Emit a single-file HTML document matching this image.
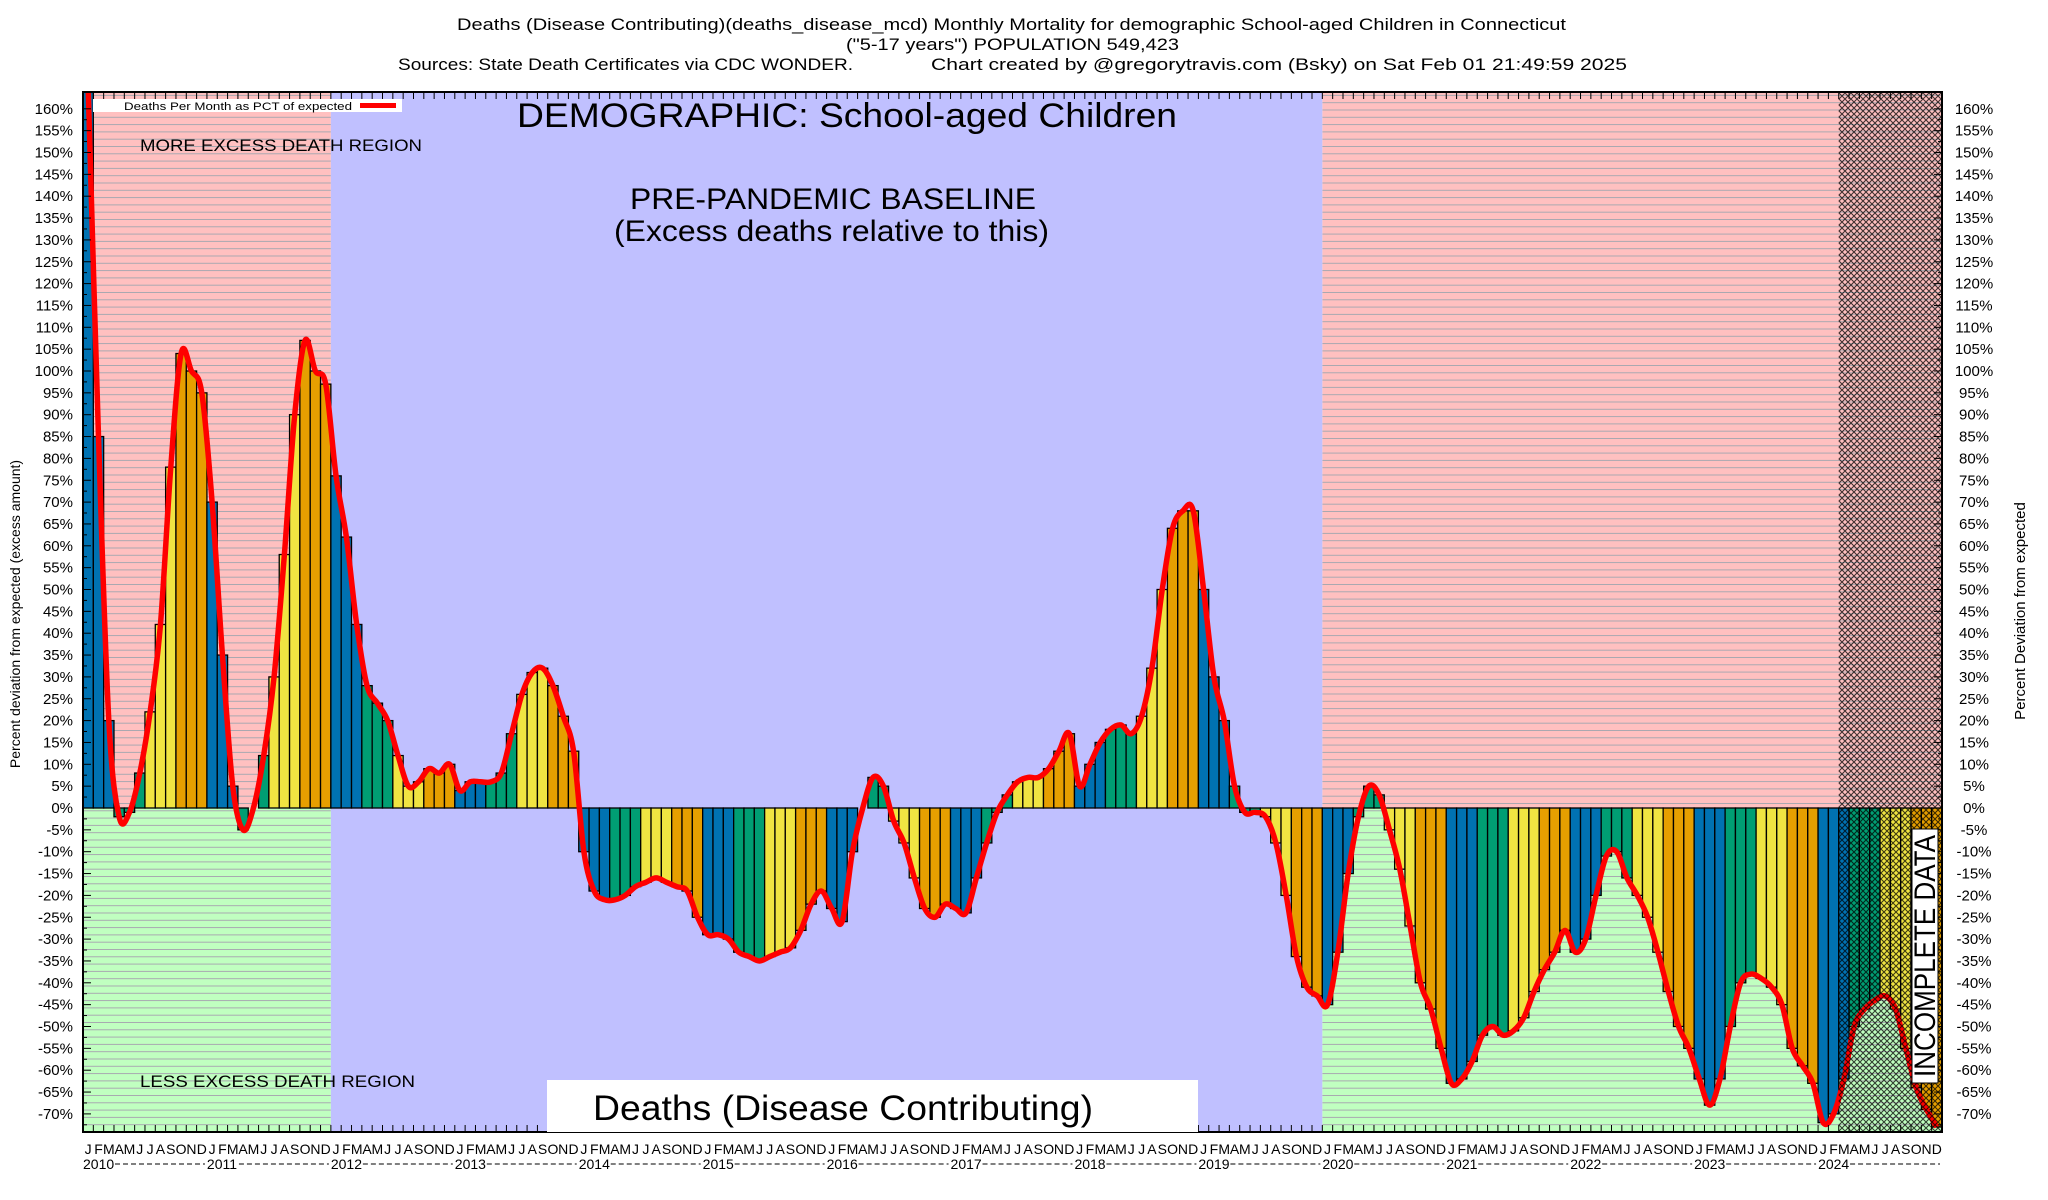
<!DOCTYPE html>
<html><head><meta charset="utf-8"><style>
html,body{margin:0;padding:0;background:#fff;}
svg{display:block;font-family:"Liberation Sans",sans-serif;}
</style></head><body>
<svg id="chart" width="2048" height="1200" viewBox="0 0 2048 1200" xmlns="http://www.w3.org/2000/svg">
<defs>
<pattern id="stripes" width="20" height="7.3" patternUnits="userSpaceOnUse"><line x1="0" y1="0.5" x2="20" y2="0.5" stroke="#a8a8b0" stroke-width="1"/></pattern>
<pattern id="hatch" width="6" height="6" patternUnits="userSpaceOnUse"><path d="M0,0 L6,6 M6,0 L0,6" stroke="#000" stroke-width="1.1" opacity="0.75"/></pattern>
<clipPath id="plotclip"><rect x="83" y="92" width="1859" height="1040"/></clipPath>
</defs>
<g id="bg"></g>
<g id="bars" clip-path="url(#plotclip)"></g>
<g id="line" clip-path="url(#plotclip)"></g>
<g id="overlay"></g>
<g id="axes"></g>
<g id="texts">
<text x="457" y="30" font-size="17" textLength="1109" lengthAdjust="spacingAndGlyphs">Deaths (Disease Contributing)(deaths_disease_mcd) Monthly Mortality for demographic School-aged Children in Connecticut</text>
<text x="846" y="50" font-size="17" textLength="333" lengthAdjust="spacingAndGlyphs">("5-17 years") POPULATION 549,423</text>
<text x="398" y="70" font-size="17" textLength="455" lengthAdjust="spacingAndGlyphs">Sources: State Death Certificates via CDC WONDER.</text>
<text x="931" y="70" font-size="17" textLength="696" lengthAdjust="spacingAndGlyphs">Chart created by @gregorytravis.com (Bsky) on Sat Feb 01 21:49:59 2025</text>
<rect x="93" y="99" width="309" height="13" fill="#fff"/>
<text x="124" y="110" font-size="11" textLength="228" lengthAdjust="spacingAndGlyphs">Deaths Per Month as PCT of expected</text>
<line x1="360" y1="105.5" x2="396" y2="105.5" stroke="#f00" stroke-width="5"/>
<text x="517" y="127" font-size="34" textLength="660" lengthAdjust="spacingAndGlyphs">DEMOGRAPHIC: School-aged Children</text>
<text x="140" y="151" font-size="17" textLength="282" lengthAdjust="spacingAndGlyphs">MORE EXCESS DEATH REGION</text>
<text x="630" y="209" font-size="30" textLength="406" lengthAdjust="spacingAndGlyphs">PRE-PANDEMIC BASELINE</text>
<text x="614" y="241" font-size="30" textLength="435" lengthAdjust="spacingAndGlyphs">(Excess deaths relative to this)</text>
<text x="140" y="1087" font-size="17" textLength="275" lengthAdjust="spacingAndGlyphs">LESS EXCESS DEATH REGION</text>
<rect x="547" y="1080" width="651" height="52" fill="#fff"/>
<text x="593" y="1120" font-size="35" textLength="500" lengthAdjust="spacingAndGlyphs">Deaths (Disease Contributing)</text>
<rect x="1912" y="829" width="26" height="254" fill="#fff" stroke="#000" stroke-width="1"/>
<text transform="translate(1935,1077) rotate(-90)" font-size="30" textLength="242" lengthAdjust="spacingAndGlyphs">INCOMPLETE DATA</text>
<text transform="translate(20,614) rotate(-90)" font-size="14" text-anchor="middle">Percent deviation from expected (excess amount)</text>
<text transform="translate(2025,611) rotate(-90)" font-size="15" text-anchor="middle">Percent Deviation from expected</text>
</g>
</svg>
<script>
const startYear = 2010;
const monthLetters = ["J","F","M","A","M","J","J","A","S","O","N","D"];
const yTicks = [160,155,150,145,140,135,130,125,120,115,110,105,100,95,90,85,80,75,70,65,60,55,50,45,40,35,30,25,20,15,10,5,0,-5,-10,-15,-20,-25,-30,-35,-40,-45,-50,-55,-60,-65,-70];
const values2010 = [165,85,20,-2,-1,8,22,42,78,104,100,95];
const values2011 = [70,35,5,-5,0,12,30,58,90,107,100,97];
const values2012 = [76,62,42,28,24,20,12,5,6,9,8,10];
const values2013 = [4,6,6,6,8,17,26,31,32,28,21,13];
const values2014 = [-10,-19,-21,-21,-20,-18,-17,-16,-17,-18,-19,-25];
const values2015 = [-29,-29,-30,-33,-34,-35,-34,-33,-32,-28,-22,-19];
const values2016 = [-23,-26,-10,0,7,5,-3,-8,-16,-23,-25,-22];
const values2017 = [-23,-24,-16,-8,-1,3,6,7,7,9,13,17];
const values2018 = [5,10,15,18,19,17,21,32,50,64,68,68];
const values2019 = [50,30,20,5,-1,-1,-2,-8,-20,-34,-41,-43];
const values2020 = [-45,-33,-15,-2,5,3,-5,-14,-27,-40,-46,-55];
const values2021 = [-63,-62,-58,-52,-50,-52,-51,-48,-42,-37,-33,-28];
const values2022 = [-33,-30,-20,-11,-10,-16,-20,-25,-33,-42,-50,-55];
const values2023 = [-62,-68,-62,-50,-40,-38,-39,-41,-45,-55,-59,-63];
const values2024 = [-72,-70,-62,-50,-46,-44,-43,-46,-55,-64,-69,-73];
const values = [].concat(values2010,values2011,values2012,values2013,values2014,values2015,values2016,values2017,values2018,values2019,values2020,values2021,values2022,values2023,values2024);
const incompleteFromIndex = 170;

const NS="http://www.w3.org/2000/svg";
const X0=83, X1=1942, YT=92, YB=1132;
const n=values.length, mw=(X1-X0)/n;
const xs=i=>X0+i*mw;
const ys=v=>808-v*4.37;
function mk(tag,attrs,parent){const e=document.createElementNS(NS,tag);for(const k in attrs)e.setAttribute(k,attrs[k]);parent.appendChild(e);return e;}
const bg=document.getElementById('bg'),bars=document.getElementById('bars'),line=document.getElementById('line'),ov=document.getElementById('overlay'),ax=document.getElementById('axes');
const z=ys(0);
const x2012=xs(24), x2020=xs(120);
let r;
r=mk('rect',{x:X0,y:YT,width:x2012-X0,height:z-YT,fill:'#ffc0c0'},bg);
 
r=mk('rect',{x:x2020,y:YT,width:X1-x2020,height:z-YT,fill:'#ffc0c0'},bg);
 
r=mk('rect',{x:X0,y:z,width:x2012-X0,height:YB-z,fill:'#c0ffc0'},bg);
 
r=mk('rect',{x:x2020,y:z,width:X1-x2020,height:YB-z,fill:'#c0ffc0'},bg);
 
r=mk('rect',{x:X0,y:YT,width:x2012-X0,height:YB-YT,fill:'url(#stripes)'},bg);
 
r=mk('rect',{x:x2020,y:YT,width:X1-x2020,height:YB-YT,fill:'url(#stripes)'},bg);
 
r=mk('rect',{x:x2012,y:YT,width:x2020-x2012,height:YB-YT,fill:'#c0c0ff'},bg);
 

const colors=['#0072b2','#009e73','#f0e442','#e69f00'];
values.forEach((v,i)=>{
  const m=i%12; const y=ys(v);
  const b=mk('rect',{x:xs(i),y:Math.min(y,z),width:mw,height:Math.abs(z-y),fill:colors[Math.floor(m/3)],stroke:'#000','stroke-width':1.3},bars);
  
  
});
const pts=values.map((v,i)=>[xs(i)+mw/2,ys(v)]);
let d='M'+pts[0][0]+','+pts[0][1];
for(let i=0;i<pts.length-1;i++){
  const p0=pts[Math.max(0,i-1)],p1=pts[i],p2=pts[i+1],p3=pts[Math.min(pts.length-1,i+2)];
  d+=' C'+(p1[0]+(p2[0]-p0[0])/6)+','+(p1[1]+(p2[1]-p0[1])/6)+' '+(p2[0]-(p3[0]-p1[0])/6)+','+(p2[1]-(p3[1]-p1[1])/6)+' '+p2[0]+','+p2[1];
}
const pl=mk('path',{d:d,fill:'none',stroke:'#ff0000','stroke-width':5.5,'stroke-linejoin':'round'},line);



const hx=xs(incompleteFromIndex);
const h=mk('rect',{x:hx,y:YT,width:X1-hx,height:YB-YT,fill:'url(#hatch)'},ov);



const fr=mk('rect',{x:X0,y:YT,width:X1-X0,height:YB-YT,fill:'none',stroke:'#000','stroke-width':2},ax);


yTicks.forEach(t=>{
  const y=ys(t);
  mk('line',{x1:X0,y1:y,x2:X0+8,y2:y,stroke:'#000','stroke-width':1},ax);
  mk('line',{x1:X1-8,y1:y,x2:X1,y2:y,stroke:'#000','stroke-width':1},ax);
  mk('line',{x1:X0,y1:y+10.9,x2:X0+4,y2:y+10.9,stroke:'#000','stroke-width':1},ax);
  mk('line',{x1:X1-4,y1:y+10.9,x2:X1,y2:y+10.9,stroke:'#000','stroke-width':1},ax);
  const l=mk('text',{x:73,y:y+5,'font-size':15,'text-anchor':'end'},ax);
  l.textContent=t+'%';
  
  
  const rr=mk('text',{x:1974,y:y+5,'font-size':15,'text-anchor':'middle'},ax);
  rr.textContent=t+'%';
  
  
});
for(let i=0;i<=n;i++){
  const x=xs(i);
  mk('line',{x1:x,y1:YB,x2:x,y2:YB-7,stroke:'#000','stroke-width':1},ax);
  mk('line',{x1:x,y1:YT,x2:x,y2:YT+7,stroke:'#000','stroke-width':1},ax);
}
for(let i=0;i<n;i++){
  const t=mk('text',{x:xs(i)+mw/2,y:1154,'font-size':14,'text-anchor':'middle'},ax);
  t.textContent=monthLetters[i%12];
  
  
}
for(let yr=0;yr<n/12;yr++){
  const x=xs(yr*12);
  const t=mk('text',{x:x,y:1169,'font-size':14},ax);
  t.textContent=String(startYear+yr);
  
  
  mk('line',{x1:x+32,y1:1164,x2:xs(yr*12+12)-2,y2:1164,stroke:'#000','stroke-width':1,'stroke-dasharray':'5,3'},ax);
}
</script>
</body></html>
